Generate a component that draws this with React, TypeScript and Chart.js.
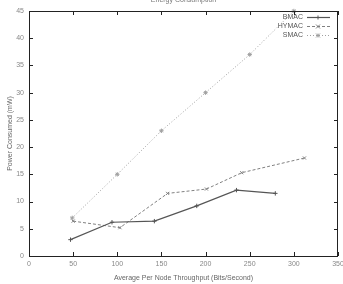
import React, { useEffect, useRef } from "react";
import { Chart, registerables } from "chart.js";

Chart.register(...registerables);

const chartTitle = "Energy Consumption";
const xTitle = "Average Per Node Throughput (Bits/Second)";
const yTitle = "Power Consumed (mW)";
const seriesNames = ["BMAC", "HYMAC", "SMAC"];

const bmacX = [47, 94, 142, 190, 235, 279];
const bmacY = [3.0, 6.2, 6.4, 9.2, 12.1, 11.5];
const hymacX = [50, 103, 157, 201, 241, 312];
const hymacY = [6.4, 5.2, 11.5, 12.3, 15.3, 18.0];
const smacX = [49, 100, 150, 200, 250, 300];
const smacY = [7.0, 15.0, 23.0, 30.0, 37.0, 45.0];

const xTicks = [0, 50, 100, 150, 200, 250, 300, 350];
const yTicks = [0, 5, 10, 15, 20, 25, 30, 35, 40, 45];

const FONT = "'Liberation Sans', Arial, sans-serif";

const styles = [
  { color: "#555555", dash: [] as number[], width: 1.2, point: "cross" },
  { color: "#808080", dash: [3, 2], width: 1, point: "crossRot" },
  { color: "#a0a0a0", dash: [1, 2], width: 1, point: "star" },
];

function toPts(xs: number[], ys: number[]) {
  return xs.map((x, i) => ({ x, y: ys[i] }));
}

const gnuplotPlugin = {
  id: "gnuplotDecor",
  afterDatasetsDraw(chart: any) {
    const ctx = chart.ctx;
    const { left, right, top, bottom } = chart.chartArea;
    const xs = chart.scales.x;
    const ys = chart.scales.y;
    ctx.save();
    ctx.strokeStyle = "#222";
    ctx.lineWidth = 1;
    ctx.setLineDash([]);
    ctx.strokeRect(left + 0.5, top + 0.5, right - left - 1, bottom - top);
    const t = 4;
    ctx.beginPath();
    xTicks.forEach((v) => {
      const px = Math.round(xs.getPixelForValue(v)) + 0.5;
      ctx.moveTo(px, bottom);
      ctx.lineTo(px, bottom - t);
      ctx.moveTo(px, top);
      ctx.lineTo(px, top + t);
    });
    yTicks.forEach((v) => {
      const py = Math.round(ys.getPixelForValue(v)) + 0.5;
      ctx.moveTo(left, py);
      ctx.lineTo(left + t, py);
      ctx.moveTo(right, py);
      ctx.lineTo(right - t, py);
    });
    ctx.stroke();
    ctx.fillStyle = "#777";
    ctx.font = `7px ${FONT}`;
    ctx.textAlign = "center";
    ctx.textBaseline = "middle";
    ctx.fillText(chartTitle, (left + right) / 2, 0);
    ctx.font = `7px ${FONT}`;
    ctx.textAlign = "right";
    seriesNames.forEach((name, i) => {
      const y = 17 + i * 9;
      const st = styles[i];
      ctx.fillStyle = "#555";
      ctx.fillText(name, 303, y);
      ctx.strokeStyle = st.color;
      ctx.lineWidth = st.width;
      ctx.setLineDash(st.dash);
      ctx.beginPath();
      ctx.moveTo(307, y + 0.5);
      ctx.lineTo(330, y + 0.5);
      ctx.stroke();
      ctx.setLineDash([]);
      ctx.lineWidth = 1;
      const mx = 318;
      const r = 2;
      ctx.beginPath();
      if (st.point === "cross" || st.point === "star") {
        ctx.moveTo(mx - r, y + 0.5);
        ctx.lineTo(mx + r, y + 0.5);
        ctx.moveTo(mx, y + 0.5 - r);
        ctx.lineTo(mx, y + 0.5 + r);
      }
      if (st.point === "crossRot" || st.point === "star") {
        ctx.moveTo(mx - r, y + 0.5 - r);
        ctx.lineTo(mx + r, y + 0.5 + r);
        ctx.moveTo(mx - r, y + 0.5 + r);
        ctx.lineTo(mx + r, y + 0.5 - r);
      }
      ctx.stroke();
    });
    ctx.restore();
  },
};

export default function App() {
  const ref = useRef<HTMLCanvasElement | null>(null);
  useEffect(() => {
    document.body.style.margin = "0";
    if (!ref.current) return;
    const xs = [bmacX, hymacX, smacX];
    const yv = [bmacY, hymacY, smacY];
    const chart = new Chart(ref.current, {
      type: "scatter",
      data: {
        datasets: seriesNames.map((name, i) => ({
          label: name,
          data: toPts(xs[i], yv[i]),
          showLine: true,
          borderColor: styles[i].color,
          backgroundColor: styles[i].color,
          borderWidth: styles[i].width,
          borderDash: styles[i].dash,
          pointStyle: styles[i].point as any,
          pointRadius: 2.2,
          pointBorderWidth: 1,
          pointBorderColor: styles[i].color,
          tension: 0,
          clip: false as any,
        })),
      },
      options: {
        animation: false,
        responsive: false,
        maintainAspectRatio: false,
        layout: { padding: { top: 11, right: 0, left: 0, bottom: 0 } },
        plugins: {
          legend: { display: false },
          tooltip: { enabled: false },
          title: { display: false },
        },
        scales: {
          x: {
            type: "linear",
            min: 0,
            max: 350,
            afterBuildTicks: (s: any) => {
              s.ticks = xTicks.map((v) => ({ value: v }));
            },
            afterFit: (s: any) => {
              s.height = 28;
              s.paddingLeft = 0;
              s.paddingRight = 0;
            },
            grid: { display: false, drawTicks: false },
            border: { display: false },
            ticks: {
              color: "#888",
              font: { family: FONT, size: 7 },
              padding: 4,
              maxRotation: 0,
            },
            title: {
              display: true,
              text: xTitle,
              color: "#666",
              font: { family: FONT, size: 7 },
              padding: { top: 0, bottom: 2 },
            },
          },
          y: {
            type: "linear",
            min: 0,
            max: 45,
            afterBuildTicks: (s: any) => {
              s.ticks = yTicks.map((v) => ({ value: v }));
            },
            afterFit: (s: any) => {
              s.width = 29;
              s.paddingTop = 0;
              s.paddingBottom = 0;
            },
            grid: { display: false, drawTicks: false },
            border: { display: false },
            ticks: {
              color: "#888",
              font: { family: FONT, size: 7 },
              padding: 5,
            },
            title: {
              display: true,
              text: yTitle,
              color: "#666",
              font: { family: FONT, size: 7 },
              padding: { top: 6, bottom: 0 },
            },
          },
        },
      },
      plugins: [gnuplotPlugin],
    });
    return () => chart.destroy();
  }, []);
  return (
    <div style={{ width: 343, height: 284 }}>
      <canvas ref={ref} width={343} height={284} style={{ display: "block" }} />
    </div>
  );
}
